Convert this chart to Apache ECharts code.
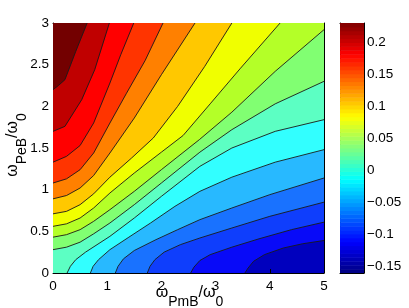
<!DOCTYPE html>
<html><head><meta charset="utf-8">
<script src="https://cdn.jsdelivr.net/npm/echarts@6/dist/echarts.min.js"></script>
<style>html,body{margin:0;padding:0;background:#fff}#c{width:409px;height:308px}</style>
</head><body><div id="c"></div>
<script>
// ---- data ----
const xTicks = [0, 1, 2, 3, 4, 5];
const yTicks = [0, 0.5, 1, 1.5, 2, 2.5, 3];
const cbTicks = [-0.15, -0.1, -0.05, 0, 0.05, 0.1, 0.15, 0.2];
const zMin = -0.161, zMax = 0.23;
const levels = [-0.137, -0.112, -0.088, -0.063, -0.039, -0.015, 0.010, 0.034, 0.059, 0.083, 0.107, 0.132, 0.156, 0.181, 0.205];
// contour lines (x = ωPmB/ω0, y = ωPeB/ω0), one per level
const line1 = [[3.54,0],[3.6,0.06],[3.7,0.14],[3.9,0.22],[4.25,0.3],[4.6,0.35],[5,0.39]];
const line2 = [[2.54,0],[2.6,0.07],[2.71,0.15],[2.9,0.22],[3.3,0.31],[3.8,0.41],[4.4,0.52],[5,0.61]];
const line3 = [[1.74,0],[1.79,0.08],[1.88,0.16],[2.05,0.25],[2.35,0.34],[2.71,0.42],[3.3,0.54],[4.0,0.68],[5,0.85]];
const line4 = [[1.15,0],[1.2,0.08],[1.3,0.17],[1.5,0.27],[1.9,0.4],[2.3,0.52],[2.71,0.64],[3.3,0.78],[4.0,0.94],[5,1.14]];
const line5 = [[0.69,0],[0.74,0.08],[0.84,0.16],[1.05,0.28],[1.4,0.43],[1.8,0.6],[2.25,0.8],[2.71,0.98],[3.3,1.15],[4.1,1.33],[5,1.48]];
const line6 = [[0.26,0],[0.32,0.08],[0.42,0.16],[0.6,0.25],[1.05,0.44],[1.5,0.66],[2.0,0.92],[2.71,1.28],[3.3,1.5],[4.1,1.7],[5,1.84]];
const line7 = [[0,0.28],[0.25,0.31],[0.5,0.37],[0.75,0.47],[1.05,0.6],[1.5,0.82],[2.0,1.08],[2.71,1.45],[3.3,1.72],[4.1,2.03],[5,2.3]];
const line8 = [[0,0.43],[0.25,0.46],[0.5,0.52],[0.75,0.62],[1.05,0.76],[1.5,0.98],[2.0,1.24],[2.7,1.6],[3.3,1.93],[4.1,2.42],[5,2.92]];
const line9 = [[0,0.56],[0.25,0.59],[0.5,0.66],[0.75,0.78],[1.05,0.96],[1.5,1.2],[2.0,1.45],[2.4,1.65],[2.9,2.03],[3.45,2.45],[4.19,3]];
const line10 = [[0,0.71],[0.25,0.74],[0.5,0.82],[0.75,0.95],[1.05,1.15],[1.45,1.38],[1.85,1.62],[2.3,2.0],[2.8,2.48],[3.3,3]];
const line11 = [[0,0.89],[0.25,0.93],[0.5,1.02],[0.75,1.17],[1.05,1.44],[1.5,1.86],[2.0,2.38],[2.62,3]];
const line12 = [[0,1.08],[0.25,1.13],[0.5,1.24],[0.75,1.44],[1.05,1.8],[1.35,2.15],[1.7,2.55],[2.03,3]];
const line13 = [[0,1.33],[0.25,1.4],[0.5,1.53],[0.75,1.8],[1.05,2.28],[1.25,2.62],[1.49,3]];
const line14 = [[0,1.7],[0.22,1.76],[0.53,2.08],[0.77,2.44],[1.04,3]];
const line15 = [[0,2.2],[0.1,2.25],[0.22,2.32],[0.42,2.66],[0.63,3]];
const contourLines = [line1,line2,line3,line4,line5,line6,line7,line8,line9,line10,line11,line12,line13,line14,line15];
const xName = [['ω',0],['PmB',1],['/ω',0],['0',1]];
const yName = [['ω',0],['PeB',1],['/ω',0],['0',1]];

// ---- colours ----
const bandColors = ['#0000be','#080af8','#0f3efc','#1972ff','#28b9ff','#32ffff','#5cffc3','#81ff72',
                    '#b4ff28','#f0ff00','#ffc800','#ff8000','#ff3400','#ff0000','#c00000','#730000'];
function clamp(v){return Math.max(0,Math.min(1,v));}
function jet(t){
  const r = clamp(1.5-Math.abs(4*t-3)), g = clamp(1.5-Math.abs(4*t-2)), b = clamp(1.5-Math.abs(4*t-1));
  return 'rgb('+Math.round(r*255)+','+Math.round(g*255)+','+Math.round(b*255)+')';
}
const cbN = 64;

// ---- geometry helpers (data space) ----
const X0=0, X1=5, Y0=0, Y1=3;
function perim(p){
  const x=p[0], y=p[1], e=1e-9;
  if (x<=X0+e) return y;
  if (y>=Y1-e) return 3+x;
  if (x>=X1-e) return 8+(3-y);
  return 11+(5-x);
}
const corners = [[0,[X0,Y0]],[3,[X0,Y1]],[8,[X1,Y1]],[11,[X1,Y0]]];
function regionPoints(pts){
  const s0 = perim(pts[0]), s1 = perim(pts[pts.length-1]);
  const d = ((s1-s0)%16+16)%16;
  const cs = [];
  corners.forEach(c=>{ const dc=((s1-c[0])%16+16)%16; if (dc>0 && dc<d) cs.push([dc,c[1]]); });
  cs.sort((a,b)=>a[0]-b[0]);
  return pts.concat(cs.map(c=>c[1]));
}

const FONT = 'Liberation Sans';
const MAIN = 16, SUB = 14, SUBDROP = 9;
const mctx = document.createElement('canvas').getContext('2d');
function tw(t,size){ mctx.font = size+'px "'+FONT+'"'; return mctx.measureText(t).width; }
function subLabel(parts){
  let x = 0; const ch = [];
  parts.forEach(p=>{
    const size = p[1]?SUB:MAIN;
    const y = p[1] ? SUBDROP - 0.35*size : -0.35*size;
    ch.push({type:'text',x:x,y:y,style:{text:p[0],fontSize:size,fontFamily:FONT,fill:'#000',align:'left',verticalAlign:'middle'}});
    x += tw(p[0],size);
  });
  return {children:ch,width:x};
}
const xl = subLabel(xName), yl = subLabel(yName);

const axLine = {show:true,onZero:false,lineStyle:{color:'#000',width:1}};
const tick = {show:true,inside:true,length:4,lineStyle:{color:'#000',width:1}};
const lab = {color:'#000',fontSize:13.5,fontFamily:FONT};

const chart = echarts.init(document.getElementById('c'));
chart.setOption({
  animation:false,
  grid:[
    {left:53,top:23,width:271,height:250,show:true,backgroundColor:bandColors[0],borderWidth:0,containLabel:false,outerBoundsMode:'none'},
    {left:340,top:23,width:24,height:250,show:false,containLabel:false,outerBoundsMode:'none'}
  ],
  xAxis:[
    {gridIndex:0,type:'value',min:0,max:5,interval:1,position:'bottom',axisLine:axLine,axisTick:tick,
     axisLabel:Object.assign({margin:6},lab),splitLine:{show:false}},
    {gridIndex:0,type:'value',min:0,max:5,interval:1,position:'top',axisLine:axLine,axisTick:tick,axisLabel:{show:false},splitLine:{show:false}},
    {gridIndex:1,type:'value',min:0,max:1,position:'bottom',axisLine:axLine,axisTick:{show:false},axisLabel:{show:false},splitLine:{show:false}},
    {gridIndex:1,type:'value',min:0,max:1,position:'top',axisLine:axLine,axisTick:{show:false},axisLabel:{show:false},splitLine:{show:false}}
  ],
  yAxis:[
    {gridIndex:0,type:'value',min:0,max:3,interval:0.5,position:'left',axisLine:axLine,axisTick:tick,
     axisLabel:Object.assign({margin:4},lab),splitLine:{show:false}},
    {gridIndex:0,type:'value',min:0,max:3,interval:0.5,position:'right',axisLine:axLine,axisTick:tick,axisLabel:{show:false},splitLine:{show:false}},
    {gridIndex:1,type:'value',min:zMin,max:zMax,position:'right',axisLine:axLine,
     axisTick:{show:true,inside:true,length:3,customValues:cbTicks,lineStyle:{color:'#000'}},
     axisLabel:Object.assign({margin:3,customValues:cbTicks,formatter:v=>(v<0?'\u2212':'')+Math.abs(v)},lab),splitLine:{show:false}},
    {gridIndex:1,type:'value',min:zMin,max:zMax,position:'left',axisLine:axLine,
     axisTick:{show:true,inside:true,length:3,customValues:cbTicks,lineStyle:{color:'#000'}},
     axisLabel:{show:false},splitLine:{show:false}}
  ],
  series:[
    {type:'custom',xAxisIndex:0,yAxisIndex:0,clip:true,z:2,
     data:contourLines.map((l,i)=>[i]),
     renderItem:function(params,api){
       const k = api.value(0);
       const pts = regionPoints(contourLines[k]).map(p=>api.coord(p));
       return {type:'polygon',shape:{points:pts},style:{fill:bandColors[k+1],stroke:bandColors[k+1],lineWidth:0.3}};
     }},
    {type:'custom',xAxisIndex:0,yAxisIndex:0,clip:true,z:3,
     data:contourLines.map((l,i)=>[i]),
     renderItem:function(params,api){
       const k = api.value(0);
       const pts = contourLines[k].map(p=>api.coord(p));
       return {type:'polyline',shape:{points:pts},style:{fill:null,stroke:'#1a1a1a',lineWidth:0.9}};
     }},
    {type:'custom',xAxisIndex:2,yAxisIndex:2,clip:true,z:2,
     data:Array.from({length:cbN},(_,i)=>[i]),
     renderItem:function(params,api){
       const i = api.value(0);
       const lo = zMin+(zMax-zMin)*i/cbN, hi = zMin+(zMax-zMin)*(i+1)/cbN;
       const a = api.coord([0,hi]), b = api.coord([1,lo]);
       return {type:'rect',shape:{x:a[0],y:a[1],width:b[0]-a[0],height:b[1]-a[1]+0.5},style:{fill:jet((i+0.5)/cbN)}};
     }}
  ],
  graphic:[
    {type:'group',x:189.5-xl.width/2,y:298,z:100,children:xl.children},
    {type:'group',x:18.5,y:145+yl.width/2,rotation:Math.PI/2,z:100,children:yl.children},
    {type:'group',x:302,y:24,z:100,children:[
      {type:'rect',shape:{x:0,y:0,width:22,height:21},style:{fill:'#fff',stroke:'#000',lineWidth:1}},
      {type:'text',style:{x:11,y:11,text:'(a)',fontSize:12.5,fontFamily:FONT,fill:'#000',align:'center',verticalAlign:'middle'}}
    ]}
  ]
});
</script></body></html>
